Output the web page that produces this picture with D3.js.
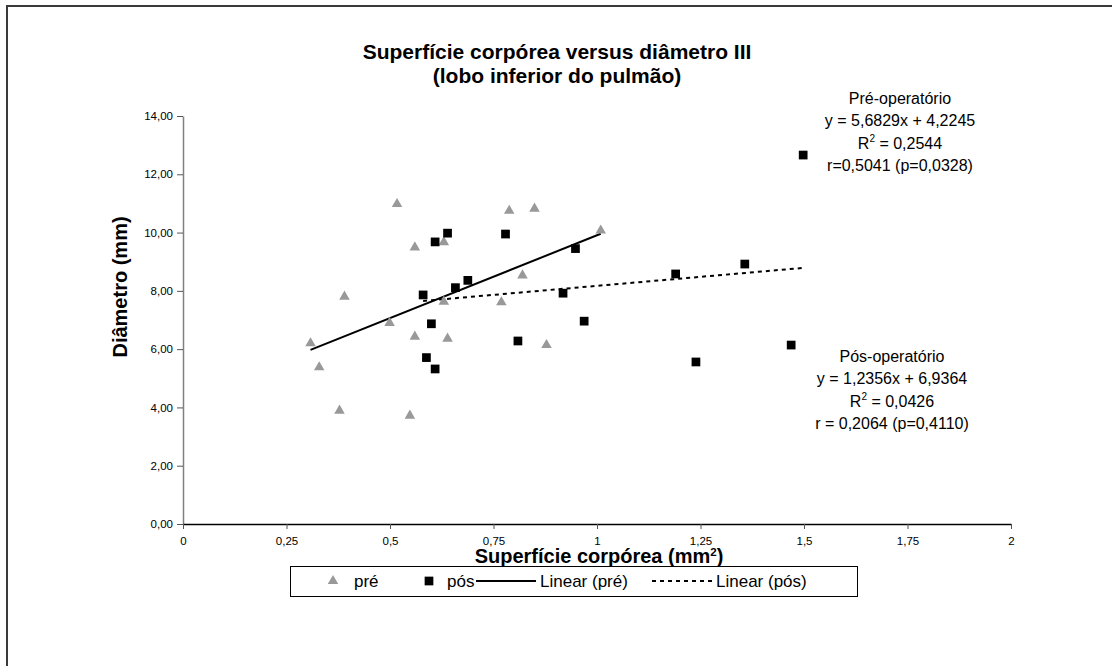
<!DOCTYPE html>
<html><head><meta charset="utf-8">
<script src="https://cdn.jsdelivr.net/npm/d3@7"></script>
<style>body{margin:0;background:#fff;} text{font-family:"Liberation Sans",Arial,sans-serif;}</style>
</head><body>
<svg id="chart" width="1112" height="666"></svg>
<script>
// ---- data ----
const preX = [0.308, 0.329, 0.378, 0.390, 0.499, 0.517, 0.548, 0.560, 0.560, 0.630, 0.630, 0.639, 0.769, 0.788, 0.820, 0.849, 0.878, 1.009];
const preY = [6.20, 5.38, 3.89, 7.80, 6.90, 10.98, 3.72, 9.49, 6.43, 9.67, 7.63, 6.36, 7.61, 10.75, 8.53, 10.82, 6.14, 10.07];
const posX = [0.580, 0.588, 0.600, 0.609, 0.609, 0.639, 0.658, 0.688, 0.779, 0.809, 0.918, 0.948, 0.969, 1.190, 1.239, 1.357, 1.469, 1.498];
const posY = [7.86, 5.71, 6.87, 9.68, 5.32, 9.98, 8.11, 8.36, 9.95, 6.28, 7.92, 9.45, 6.96, 8.58, 5.56, 8.92, 6.14, 12.66];
const preFit = [5.6829, 4.2245];   // slope, intercept
const posFit = [1.2356, 6.9364];
const xTickValues = [0, 0.25, 0.5, 0.75, 1, 1.25, 1.5, 1.75, 2];
const xTickLabels = ["0", "0,25", "0,5", "0,75", "1", "1,25", "1,5", "1,75", "2"];
const yTickValues = [0, 2, 4, 6, 8, 10, 12, 14];
const yTickLabels = ["0,00", "2,00", "4,00", "6,00", "8,00", "10,00", "12,00", "14,00"];
const titleLines = ["Superfície corpórea versus diâmetro III", "(lobo inferior do pulmão)"];
const preNote = ["Pré-operatório", "y = 5,6829x + 4,2245", "R|2| = 0,2544", "r=0,5041 (p=0,0328)"];
const posNote = ["Pós-operatório", "y = 1,2356x + 6,9364", "R|2| = 0,0426", "r = 0,2064 (p=0,4110)"];
const legendLabels = ["pré", "pós", "Linear (pré)", "Linear (pós)"];

// ---- layout ----
const svg = d3.select("#chart");
const pL = 183, pR = 1011, pT = 116, pB = 524;
const x = d3.scaleLinear().domain([0, 2]).range([pL, pR]);
const y = d3.scaleLinear().domain([0, 14]).range([pB, pT]);
const GREY = "#999999";

// outer frame
svg.append("rect").attr("x", 7).attr("y", 6).attr("width", 1130).attr("height", 700)
  .attr("fill", "none").attr("stroke", "#3a3a3a").attr("stroke-width", 2);

// title
svg.append("g").selectAll("text").data(titleLines).join("text")
  .attr("x", 557).attr("y", (d, i) => 59 + i * 24)
  .attr("text-anchor", "middle").attr("font-size", 21).attr("font-weight", "bold")
  .text(d => d);

// axes
const yAxis = svg.append("g").attr("transform", `translate(${pL},0)`)
  .call(d3.axisLeft(y).tickValues(yTickValues).tickFormat((d, i) => yTickLabels[i]).tickSize(6).tickSizeOuter(0));
yAxis.select(".domain").attr("stroke", "#808080").attr("stroke-width", 1.5);
yAxis.selectAll(".tick line").attr("stroke", "#555");
yAxis.selectAll(".tick text").attr("font-size", 11.5).attr("fill", "#000").attr("x", -10)
  .style("font-family", "'Liberation Sans', Arial, sans-serif");

const xAxis = svg.append("g").attr("transform", `translate(0,${pB})`)
  .call(d3.axisBottom(x).tickValues(xTickValues).tickFormat((d, i) => xTickLabels[i]).tickSize(5).tickSizeOuter(0));
xAxis.select(".domain").attr("stroke", "#000").attr("stroke-width", 1.5);
xAxis.selectAll(".tick line").attr("stroke", "#555");
xAxis.selectAll(".tick text").attr("font-size", 11.5).attr("fill", "#000").attr("y", 12.5)
  .style("font-family", "'Liberation Sans', Arial, sans-serif");

// axis titles
svg.append("text").attr("x", 599).attr("y", 563).attr("text-anchor", "middle")
  .attr("font-size", 20).attr("font-weight", "bold")
  .call(t => { t.append("tspan").text("Superfície corpórea (mm");
               t.append("tspan").attr("font-size", 11.5).attr("dy", -7).text("2");
               t.append("tspan").attr("dy", 7).text(")"); });
svg.append("text").attr("transform", "translate(127,287) rotate(-90)").attr("text-anchor", "middle")
  .attr("font-size", 20).attr("font-weight", "bold").text("Diâmetro (mm)");

// trend lines
function fitLine(xs, fit) {
  const x0 = d3.min(xs), x1 = d3.max(xs);
  return [[x0, fit[0] * x0 + fit[1]], [x1, fit[0] * x1 + fit[1]]];
}
const line = d3.line().x(d => x(d[0])).y(d => y(d[1]));
svg.append("path").attr("d", line(fitLine(preX, preFit))).attr("stroke", "#000").attr("stroke-width", 2).attr("fill", "none");
svg.append("path").attr("d", line(fitLine(posX, posFit))).attr("stroke", "#000").attr("stroke-width", 2)
  .attr("stroke-dasharray", "4,4").attr("fill", "none");

// points
const tri = d3.symbol().type(d3.symbolTriangle).size(48);
const sq = d3.symbol().type(d3.symbolSquare).size(76);
svg.append("g").selectAll("path").data(preX).join("path")
  .attr("d", tri).attr("fill", GREY)
  .attr("transform", (d, i) => `translate(${x(d)},${y(preY[i])})`);
svg.append("g").selectAll("path").data(posX).join("path")
  .attr("d", sq).attr("fill", "#000")
  .attr("transform", (d, i) => `translate(${x(d)},${y(posY[i])})`);

// annotations
function note(lines, cx, y0) {
  const g = svg.append("g");
  lines.forEach((s, i) => {
    const t = g.append("text").attr("x", cx).attr("y", y0 + i * 22.3).attr("text-anchor", "middle").attr("font-size", 16);
    const parts = s.split("|");
    if (parts.length === 1) t.text(s);
    else {
      t.append("tspan").text(parts[0]);
      t.append("tspan").attr("font-size", 10).attr("dy", -7).text(parts[1]);
      t.append("tspan").attr("dy", 7).text(parts[2]);
    }
  });
}
note(preNote, 900, 104);
note(posNote, 892, 362);

// legend
const lg = svg.append("g");
lg.append("rect").attr("x", 290.5).attr("y", 566.5).attr("width", 567).attr("height", 30)
  .attr("fill", "#fff").attr("stroke", "#000").attr("stroke-width", 1);
const ly = 581;
lg.append("path").attr("d", tri).attr("fill", GREY).attr("transform", `translate(333,${ly})`);
lg.append("path").attr("d", sq).attr("fill", "#000").attr("transform", `translate(429,${ly})`);
lg.append("line").attr("x1", 476).attr("x2", 536).attr("y1", ly).attr("y2", ly).attr("stroke", "#000").attr("stroke-width", 2);
lg.append("line").attr("x1", 652).attr("x2", 712).attr("y1", ly).attr("y2", ly).attr("stroke", "#000").attr("stroke-width", 2).attr("stroke-dasharray", "4,4");
const lx = [354, 447, 540, 716];
lg.selectAll("text").data(legendLabels).join("text")
  .attr("x", (d, i) => lx[i]).attr("y", ly + 6).attr("font-size", 17).text(d => d);
</script>
</body></html>
